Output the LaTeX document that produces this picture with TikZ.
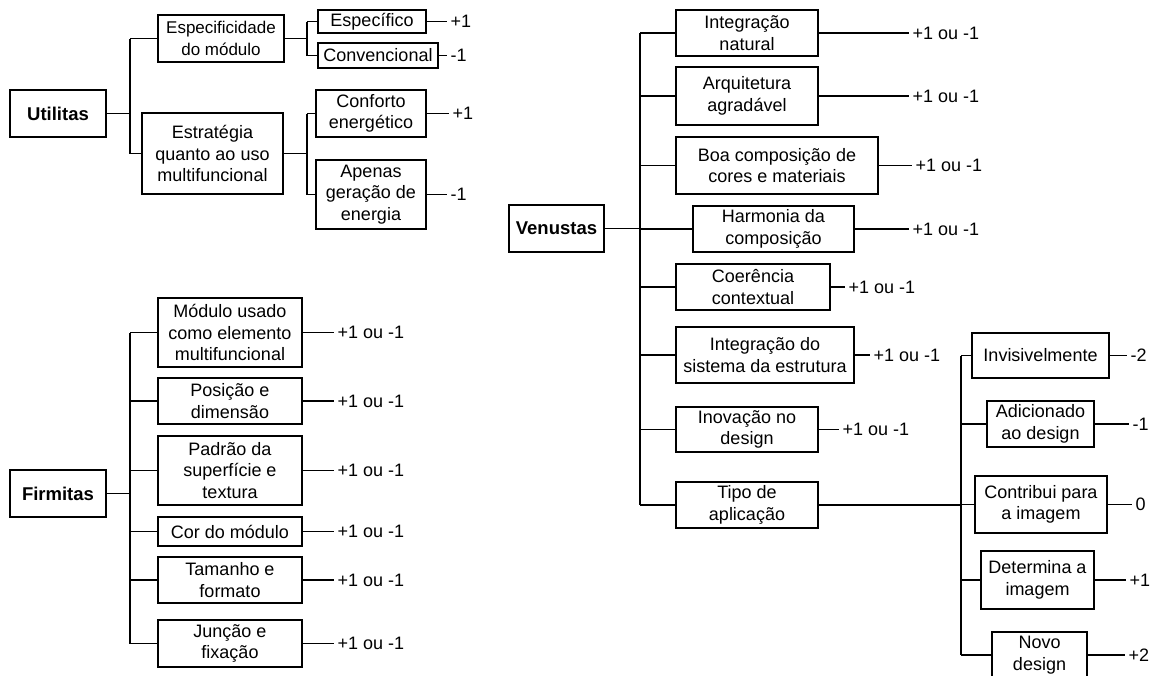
\documentclass[tikz,border=0pt]{standalone}
\usepackage{fontspec}
\setmainfont{Liberation Sans}
\usepackage{tikz}

\begin{document}
\begin{tikzpicture}[x = 1pt, y = -1pt, line width = 1.1pt,
		box/.style = {draw, align = center, inner sep = 0pt, font = \fontsize{18}{21.5}\selectfont},
		root/.style = {box, font = \fontsize{18.5}{22}\selectfont\bfseries},
		val/.style = {anchor = west, inner xsep = 3pt, inner ysep = 1pt, font = \fontsize{18}{21.5}\selectfont}]
	\clip (0, 0) rectangle (1153, 675);

	% Utilitas
	\node[root, minimum width = 96, minimum height = 47] (u) at (58, 113.5) {Utilitas};
	\coordinate (ut) at (130, 113.5);
	\node[box, minimum width = 126, minimum height = 47, font = \fontsize{17}{21.5}\selectfont] (u1) at (221, 38.5) {Especificidade\\do módulo};
	\node[box, minimum width = 141, minimum height = 81] (u2) at (212.5, 153.5) {Estratégia\\quanto ao uso\\multifuncional};
	\draw (u.east) -- (ut);
	\draw (ut |- u1) -- (ut |- u2);
	\draw (ut |- u1) -- (u1.west);
	\draw (ut |- u2) -- (u2.west);
	\coordinate (u1t) at (307, 38.5);
	\coordinate (u2t) at (307, 153.5);
	\node[box, minimum width = 108, minimum height = 23] (u11) at (372, 21.5) {Específico};
	\node[box, minimum width = 120, minimum height = 25] (u12) at (378, 55.5) {Convencional};
	\node[box, minimum width = 110, minimum height = 47] (u21) at (371, 113.5) {Conforto\\energético};
	\node[box, minimum width = 110, minimum height = 69] (u22) at (371, 194.5) {Apenas\\geração de\\energia};
	\draw (u1.east) -- (u1t);
	\draw (u1t |- u11) -- (u1t |- u12);
	\draw (u2.east) -- (u2t);
	\draw (u2t |- u21) -- (u2t |- u22);
	\foreach \n/\t/\v/\vx in {u11/u1t/+1/447, u12/u1t/-1/447, u21/u2t/+1/449, u22/u2t/-1/447}
	{
		\draw (\t |- \n) -- (\n.west);
		\node[val] (v\n) at (\vx, 0 |- \n) {\v};
		\draw (\n.east) -- (v\n.west);
	}

	% Firmitas
	\node[root, minimum width = 96, minimum height = 47] (f) at (58, 493.5) {Firmitas};
	\coordinate (ft) at (130, 493.5);
	\draw (f.east) -- (ft);
	\foreach \n/\y/\h/\t in {f1/332.5/69/Módulo usado\\como elemento\\multifuncional, f2/401/46/Posição e\\dimensão, f3/470.5/69/Padrão da\\superfície e\\textura, f4/531.5/29/Cor do módulo, f5/580/46/Tamanho e\\formato, f6/643.5/47/Junção e\\fixação}
	{
		\node[box, minimum width = 144, minimum height = \h] (\n) at (230, \y) {\t};
		\draw (ft |- \n) -- (\n.west);
		\node[val] (v\n) at (334, \y) {+1 ou -1};
		\draw (\n.east) -- (v\n.west);
	}
	\draw (ft |- f1) -- (ft |- f6);

	% Venustas
	\node[root, minimum width = 95, minimum height = 47] (v) at (556.5, 228.5) {Venustas};
	\coordinate (vt) at (640, 228.5);
	\draw (v.east) -- (vt);
	\foreach \n/\x/\y/\w/\h/\t/\vx in {v1/747/33/142/46/Integração\\natural/909, v2/747/96/142/58/Arquitetura\\agradável/909, v3/777/165.5/202/57/Boa composição de\\cores e materiais/912, v4/773.5/229/161/46/Harmonia da\\composição/909, v5/753/287/154/46/Coerência\\contextual/845, v6/765/355/178/56/Integração do\\sistema da estrutura/870, v7/747/429.5/142/45/Inovação no\\design/839}
	{
		\node[box, minimum width = \w, minimum height = \h] (\n) at (\x, \y) {\t};
		\draw (vt |- \n) -- (\n.west);
		\node[val] (v\n) at (\vx, \y) {+1 ou -1};
		\draw (\n.east) -- (v\n.west);
	}
	\node[box, minimum width = 142, minimum height = 46] (v8) at (747, 505) {Tipo de\\aplicação};
	\draw (vt |- v8) -- (v8.west);
	\draw (vt |- v1) -- (vt |- v8);

	% Tipo de aplicacao
	\coordinate (tt) at (961, 505);
	\draw (v8.east) -- (tt);
	\foreach \n/\x/\y/\w/\h/\t/\v/\vx in {t1/1040.5/355.5/137/45/Invisivelmente/-2/1127, t2/1040.5/424/107/46/Adicionado\\ao design/-1/1129, t3/1041/504.5/132/57/Contribui para\\a imagem/0/1132, t4/1037.5/580/113/58/Determina a\\imagem/+1/1126, t5/1039.5/655/95/46/Novo\\design/+2/1125}
	{
		\node[box, minimum width = \w, minimum height = \h] (\n) at (\x, \y) {\t};
		\draw (tt |- \n) -- (\n.west);
		\node[val] (v\n) at (\vx, \y) {\v};
		\draw (\n.east) -- (v\n.west);
	}
	\draw (tt |- t1) -- (tt |- t5);
\end{tikzpicture}
\end{document}
